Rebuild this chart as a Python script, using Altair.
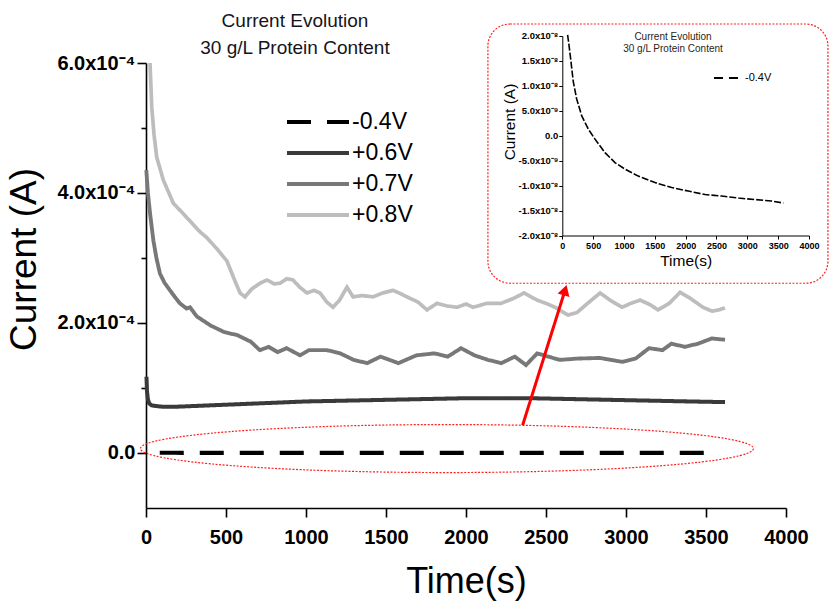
import altair as alt
import pandas as pd

FONT = "Liberation Sans"

# ---------------- data ----------------
SERIES = ["-0.4V", "+0.6V", "+0.7V", "+0.8V"]
SERIES_COLORS = ["#000000", "#3a3a3a", "#787878", "#bdbdbd"]
SERIES_DASH = [[24, 16], [1, 0], [1, 0], [1, 0]]
SERIES_WIDTH = [4.2, 3.7, 3.7, 3.7]

TIME_N04 = [86, 108, 141, 178, 232, 314, 422, 530, 692, 854, 1016, 1232, 1503, 1773,
            2043, 2314, 2584, 2854, 3124, 3395, 3584]
CURRENT_N04 = [2.02e-8, 1.82e-8, 1.48e-8, 1.08e-8, 0.74e-8, 0.40e-8, 0.13e-8, -0.07e-8,
               -0.34e-8, -0.54e-8, -0.67e-8, -0.81e-8, -0.94e-8, -1.04e-8, -1.11e-8,
               -1.18e-8, -1.21e-8, -1.25e-8, -1.28e-8, -1.31e-8, -1.35e-8]

TIME_P06 = [3, 6, 12, 20, 35, 60, 100, 200, 400, 600, 800, 1000, 1200, 1400, 1600, 1800,
            2000, 2200, 2400, 2600, 2800, 3000, 3200, 3400, 3619]
CURRENT_P06 = [1.17e-4, 0.95e-4, 0.82e-4, 0.76e-4, 0.73e-4, 0.72e-4, 0.71e-4, 0.71e-4,
               0.73e-4, 0.75e-4, 0.77e-4, 0.79e-4, 0.80e-4, 0.81e-4, 0.82e-4, 0.83e-4,
               0.84e-4, 0.84e-4, 0.84e-4, 0.83e-4, 0.82e-4, 0.81e-4, 0.80e-4, 0.79e-4, 0.78e-4]

TIME_P07 = [2, 12, 25, 46, 65, 87, 115, 150, 180, 212, 254, 275, 317, 403, 487, 571, 655,
            711, 767, 823, 879, 963, 1019, 1131, 1214, 1298, 1382, 1466, 1578, 1690, 1802,
            1886, 1969, 2053, 2137, 2221, 2305, 2375, 2445, 2585, 2696, 2836, 2976, 3060,
            3144, 3228, 3284, 3368, 3451, 3536, 3619]
CURRENT_P07 = [4.35e-4, 4.00e-4, 3.69e-4, 3.27e-4, 3.00e-4, 2.76e-4, 2.62e-4, 2.50e-4,
               2.40e-4, 2.30e-4, 2.22e-4, 2.24e-4, 2.10e-4, 1.96e-4, 1.86e-4, 1.81e-4,
               1.71e-4, 1.58e-4, 1.63e-4, 1.55e-4, 1.61e-4, 1.50e-4, 1.58e-4, 1.58e-4,
               1.53e-4, 1.43e-4, 1.38e-4, 1.48e-4, 1.38e-4, 1.50e-4, 1.53e-4, 1.48e-4,
               1.61e-4, 1.50e-4, 1.43e-4, 1.38e-4, 1.48e-4, 1.35e-4, 1.53e-4, 1.43e-4,
               1.45e-4, 1.46e-4, 1.40e-4, 1.45e-4, 1.61e-4, 1.58e-4, 1.68e-4, 1.63e-4,
               1.68e-4, 1.76e-4, 1.74e-4]

TIME_P08 = [25, 36, 50, 67, 108, 171, 233, 300, 338, 381, 450, 506, 560, 588, 619, 660,
            713, 756, 800, 838, 880, 919, 960, 1006, 1050, 1088, 1130, 1169, 1210, 1256,
            1294, 1350, 1419, 1480, 1544, 1590, 1631, 1700, 1756, 1819, 1880, 1944, 2000,
            2044, 2130, 2219, 2300, 2363, 2444, 2500, 2556, 2638, 2694, 2760, 2838, 2900,
            2975, 3030, 3088, 3150, 3200, 3270, 3338, 3400, 3481, 3538, 3580, 3619]
CURRENT_P08 = [6.00e-4, 5.32e-4, 4.90e-4, 4.55e-4, 4.20e-4, 3.84e-4, 3.68e-4, 3.50e-4,
               3.40e-4, 3.31e-4, 3.12e-4, 2.95e-4, 2.62e-4, 2.46e-4, 2.40e-4, 2.52e-4,
               2.61e-4, 2.66e-4, 2.60e-4, 2.61e-4, 2.68e-4, 2.66e-4, 2.55e-4, 2.46e-4,
               2.50e-4, 2.46e-4, 2.32e-4, 2.24e-4, 2.35e-4, 2.55e-4, 2.40e-4, 2.42e-4,
               2.40e-4, 2.46e-4, 2.50e-4, 2.45e-4, 2.40e-4, 2.32e-4, 2.20e-4, 2.30e-4,
               2.26e-4, 2.24e-4, 2.29e-4, 2.24e-4, 2.30e-4, 2.30e-4, 2.38e-4, 2.46e-4,
               2.35e-4, 2.30e-4, 2.24e-4, 2.12e-4, 2.16e-4, 2.30e-4, 2.46e-4, 2.35e-4,
               2.24e-4, 2.30e-4, 2.35e-4, 2.28e-4, 2.20e-4, 2.30e-4, 2.47e-4, 2.38e-4,
               2.24e-4, 2.18e-4, 2.20e-4, 2.23e-4]

# axes
X_TICKS = list(range(0, 4001, 250))
Y_MAJOR = [0.0, 2e-4, 4e-4, 6e-4]
Y_MAJOR_LABELS = ["0.0", "2.0x10\u207b\u2074", "4.0x10\u207b\u2074", "6.0x10\u207b\u2074"]
Y_MINOR = [1e-4, 3e-4, 5e-4]
Y_DOMAIN = [-0.85e-4, 6e-4]
X_DOMAIN = [0, 4000]

INSET_Y_MAJOR = [-2e-8, -1.5e-8, -1e-8, -0.5e-8, 0.0, 0.5e-8, 1e-8, 1.5e-8, 2e-8]
INSET_Y_LABELS = ["-2.0x10\u207b\u2078", "-1.5x10\u207b\u2078", "-1.0x10\u207b\u2078",
                  "-5.0x10\u207b\u2079", "0.0", "5.0x10\u207b\u2079", "1.0x10\u207b\u2078",
                  "1.5x10\u207b\u2078", "2.0x10\u207b\u2078"]
INSET_Y_MINOR = [-1.75e-8, -1.25e-8, -0.75e-8, -0.25e-8, 0.25e-8, 0.75e-8, 1.25e-8, 1.75e-8]
INSET_Y_DOMAIN = [-2e-8, 2e-8]

TITLE_LINES = ["Current Evolution", "30 g/L Protein Content"]
INSET_TITLE_TIME = [1795, 1795]
INSET_TITLE_CURRENT = [1.977e-8, 1.736e-8]

# annotations (in data units of the main plot)
BOX_TIME = [2137, 4262]
BOX_CURRENT = [6.6e-4, 2.61e-4]
ELLIPSE_TIME = [1881]
ELLIPSE_CURRENT = [0.065e-4]
ARROW_TIME = [2354, 2619]
ARROW_CURRENT = [0.426e-4, 2.503e-4]

# ---------------- frames ----------------
rows = []
for name, ts, cs in [("+0.8V", TIME_P08, CURRENT_P08), ("+0.7V", TIME_P07, CURRENT_P07),
                     ("+0.6V", TIME_P06, CURRENT_P06), ("-0.4V", TIME_N04, CURRENT_N04)]:
    for t, c in zip(ts, cs):
        rows.append({"series": name, "time": t, "current": c})
main_df = pd.DataFrame(rows)
inset_df = pd.DataFrame({"time": TIME_N04, "current": CURRENT_N04, "inset_series": "-0.4V"})


def label_expr(values, labels, factor):
    parts = [f"round(datum.value*{factor})=={round(v * factor)} ? '{l}'" for v, l in zip(values, labels)]
    return " : ".join(parts) + " : ''"


def cond(test, major, minor):
    return {"condition": {"test": test, "value": major}, "value": minor}


xs_main = alt.Scale(domain=X_DOMAIN, nice=False, zero=False)
ys_main = alt.Scale(domain=Y_DOMAIN, nice=False, zero=False)

x_axis = alt.Axis(
    values=X_TICKS, labelExpr="datum.value % 500 == 0 ? '' + datum.value : ''",
    tickSize=cond("datum.value % 500 == 0", 9, 5), tickWidth=1.6, tickColor="black",
    domainColor="black", domainWidth=1.6, grid=False,
    labelFont=FONT, labelFontSize=20, labelFontWeight="bold", labelColor="black",
    labelPadding=10, labelFlush=False, labelOverlap=False,
    title="Time(s)", titleFont=FONT, titleFontSize=36, titleFontWeight="normal",
    titleColor="black", titleY=56, titleBaseline="top",
)
y_axis = alt.Axis(
    values=sorted(Y_MAJOR + Y_MINOR), labelExpr=label_expr(Y_MAJOR, Y_MAJOR_LABELS, 100000),
    tickSize=cond("round(datum.value*100000) % 20 == 0", 9, 5), tickWidth=1.6, tickColor="black",
    domainColor="black", domainWidth=1.6, grid=False,
    labelFont=FONT, labelFontSize=20, labelFontWeight="bold", labelColor="black",
    labelPadding=2, labelFlush=False, labelOverlap=False,
    title="Current (A)", titleFont=FONT, titleFontSize=37, titleFontWeight="normal",
    titleColor="black", titleX=-103, titleY=196, titleBaseline="bottom",
)

legend = alt.Legend(
    title=None, orient="none", legendX=139, legendY=43.5, symbolType="stroke",
    symbolSize=3844, symbolStrokeWidth=4, clipHeight=31, rowPadding=0, padding=0,
    labelFont=FONT, labelFontSize=23, labelColor="black", labelOffset=1,
)

lines = alt.Chart(main_df).mark_line(strokeCap="butt").encode(
    x=alt.X("time:Q", scale=xs_main, axis=x_axis),
    y=alt.Y("current:Q", scale=ys_main, axis=y_axis),
    color=alt.Color("series:N", scale=alt.Scale(domain=SERIES, range=SERIES_COLORS), legend=legend),
    strokeDash=alt.StrokeDash("series:N", scale=alt.Scale(domain=SERIES, range=SERIES_DASH), legend=legend),
    strokeWidth=alt.StrokeWidth("series:N", scale=alt.Scale(domain=SERIES, range=SERIES_WIDTH), legend=None),
    order=alt.Order("time:Q"),
)

box_df = pd.DataFrame({"time": [BOX_TIME[0]], "time2": [BOX_TIME[1]],
                       "current": [BOX_CURRENT[0]], "current2": [BOX_CURRENT[1]]})
box = alt.Chart(box_df).mark_rect(
    fillOpacity=0, stroke="#ff2020", strokeWidth=1.2, strokeDash=[2, 1.5], cornerRadius=22
).encode(x=alt.X("time:Q", scale=xs_main), x2="time2:Q",
         y=alt.Y("current:Q", scale=ys_main), y2="current2:Q")

ellipse_df = pd.DataFrame({"time": ELLIPSE_TIME, "current": ELLIPSE_CURRENT})
ellipse = alt.Chart(ellipse_df).mark_point(
    shape="M -1 0 A 1 0.0783 0 1 1 1 0 A 1 0.0783 0 1 1 -1 0 Z",
    size=613 ** 2, filled=False, stroke="#ff2020", strokeWidth=1.2, strokeDash=[2, 1.5], opacity=1,
).encode(x=alt.X("time:Q", scale=xs_main), y=alt.Y("current:Q", scale=ys_main))

arrow_df = pd.DataFrame({"time": [ARROW_TIME[0]], "time2": [ARROW_TIME[1]],
                         "current": [ARROW_CURRENT[0]], "current2": [ARROW_CURRENT[1]]})
arrow_line = alt.Chart(arrow_df).mark_rule(color="#ff0000", strokeWidth=3).encode(
    x=alt.X("time:Q", scale=xs_main), x2="time2:Q",
    y=alt.Y("current:Q", scale=ys_main), y2="current2:Q")
head_df = pd.DataFrame({"time": [ARROW_TIME[1]], "current": [ARROW_CURRENT[1]]})
arrow_head = alt.Chart(head_df).mark_point(
    shape="triangle-up", size=150, filled=True, color="#ff0000", opacity=1, angle=17
).encode(x=alt.X("time:Q", scale=xs_main), y=alt.Y("current:Q", scale=ys_main))

main = alt.layer(lines, box, ellipse, arrow_line, arrow_head)

# ---------------- inset ----------------
xs_in = alt.Scale(domain=X_DOMAIN, range=[416.3, 663], nice=False, zero=False)
ys_in = alt.Scale(domain=INSET_Y_DOMAIN, range=[172.5, -27.2], nice=False, zero=False)

x_axis_in = alt.Axis(
    orient="bottom", offset=-272.5, values=X_TICKS,
    labelExpr="datum.value % 500 == 0 ? '' + datum.value : ''",
    tickSize=cond("datum.value % 500 == 0", 3.5, 2), tickWidth=1, tickColor="black",
    domainColor="black", domainWidth=1, grid=False,
    labelFont=FONT, labelFontSize=9, labelFontWeight="bold", labelColor="black",
    labelPadding=2, labelFlush=False, labelOverlap=False,
    title="Time(s)", titleFont=FONT, titleFontSize=15.5, titleFontWeight="normal",
    titleColor="black", titleY=18, titleBaseline="top",
)
y_axis_in = alt.Axis(
    orient="left", offset=-416.3,
    values=sorted(INSET_Y_MAJOR + INSET_Y_MINOR),
    labelExpr=label_expr(INSET_Y_MAJOR, INSET_Y_LABELS, 10000000000),
    tickSize=cond("round(datum.value*10000000000) % 50 == 0", 3.5, 2), tickWidth=1,
    tickColor="black", domainColor="black", domainWidth=1, grid=False,
    labelFont=FONT, labelFontSize=9.5, labelFontWeight="bold", labelColor="black",
    labelPadding=1, labelFlush=False, labelOverlap=False,
    title="Current (A)", titleFont=FONT, titleFontSize=15.5, titleFontWeight="normal",
    titleColor="black", titleX=-45, titleY=58.5, titleBaseline="bottom",
)

inset_line = alt.Chart(inset_df).mark_line(color="black", strokeWidth=1.6, strokeDash=[7, 2]).encode(
    x=alt.X("time:Q", scale=xs_in, axis=x_axis_in),
    y=alt.Y("current:Q", scale=ys_in, axis=y_axis_in),
    order=alt.Order("time:Q"),
)
inset_legend_carrier = alt.Chart(inset_df.head(1)).mark_rule(opacity=0).encode(
    x=alt.X("time:Q", scale=xs_in), y=alt.Y("current:Q", scale=ys_in),
    strokeDash=alt.StrokeDash("inset_series:N", scale=alt.Scale(domain=["-0.4V"], range=[[9, 6]]),
                              legend=alt.Legend(title=None, orient="none", legendX=567, legendY=8,
                                                symbolType="stroke", symbolSize=900,
                                                symbolStrokeWidth=2, symbolStrokeColor="black",
                                                symbolOpacity=1, clipHeight=14, padding=0,
                                                labelFont=FONT, labelFontSize=11,
                                                labelColor="black", labelOffset=0)),
)
inset_title_df = pd.DataFrame({"text": TITLE_LINES, "time": INSET_TITLE_TIME, "current": INSET_TITLE_CURRENT})
inset_title = alt.Chart(inset_title_df).mark_text(
    font=FONT, fontSize=10, color="#2a2418", align="center", baseline="middle"
).encode(x=alt.X("time:Q", scale=xs_in), y=alt.Y("current:Q", scale=ys_in), text="text:N")

inset = alt.layer(inset_line, inset_legend_carrier, inset_title)

chart = alt.layer(main, inset).resolve_scale(
    x="independent", y="independent", strokeDash="independent", color="independent"
).properties(
    width=640, height=445,
    padding={"left": 146, "top": 63, "right": 44, "bottom": 98},
    autosize=alt.AutoSizeParams(type="none"),
    title=alt.TitleParams(
        text=TITLE_LINES, anchor="start", align="center", dx=149, dy=48, frame="group",
        baseline="top", offset=13.5, font=FONT, fontSize=19, fontWeight="normal",
        color="#141420", lineHeight=27,
    ),
).configure_view(stroke=None)

chart.save("out.html", embed_options={"renderer": "svg", "actions": False})
